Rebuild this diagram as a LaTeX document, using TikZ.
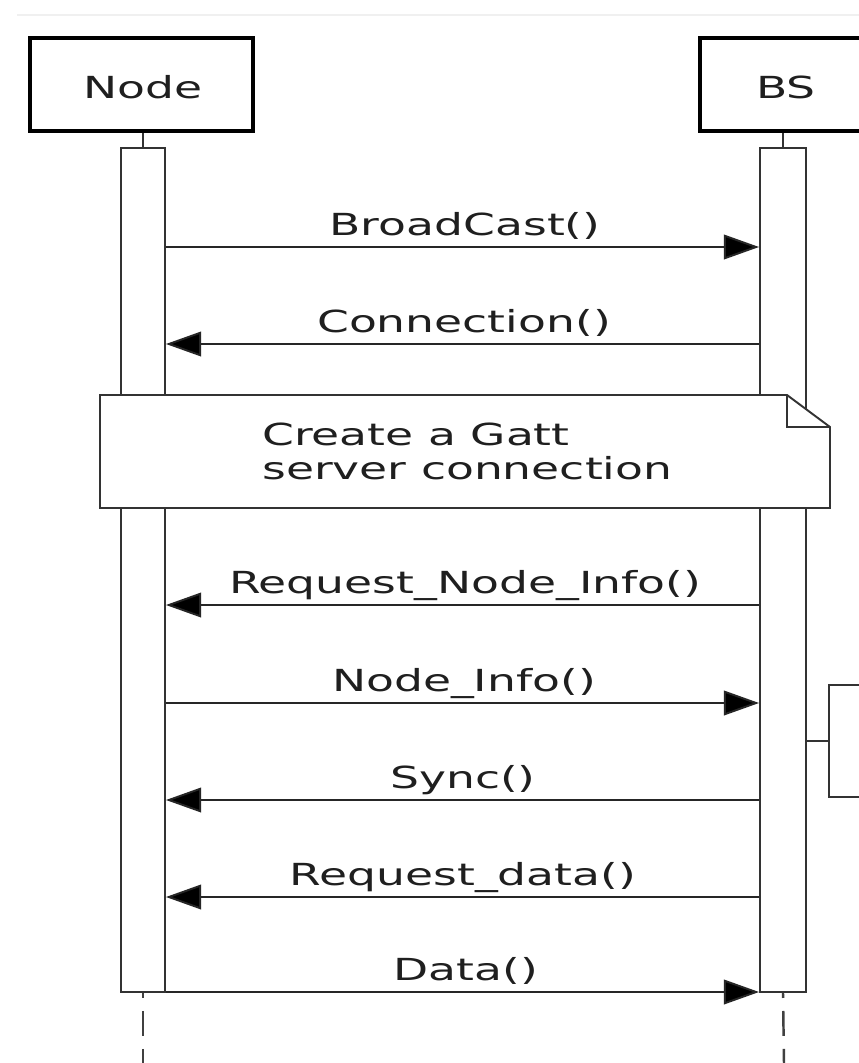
\documentclass[tikz,border=0pt]{standalone}
\usepackage{fontspec}
\setmainfont{DejaVu Sans}[FakeStretch=1.5]
\usetikzlibrary{arrows.meta,calc}
\begin{document}
\begin{tikzpicture}[x=0.02cm,y=-0.02cm,
  every node/.style={font=\fontsize{17.3}{19.3}\selectfont, text=black!88, inner sep=0pt},
  headbox/.style={draw=black, line width=2.4pt, fill=white, minimum height=1.86cm},
  actbar/.style={draw=black!80, line width=1.1pt, fill=white, minimum height=16.88cm},
  msg/.style={draw=black!85, line width=1.1pt, -{Triangle[length=20pt,width=14pt,fill=black]}},
  lbl/.style={anchor=base},
  thinline/.style={draw=black!80, line width=1.1pt},
  lifedash/.style={draw=black!75, line width=1.4pt, dash pattern=on 14.2pt off 7.4pt, dash phase=11.3pt}]
\useasboundingbox (0,0) rectangle (859,1063);
\clip (0,0) rectangle (859,1063);
\fill[white] (0,0) rectangle (859,1063);
\draw[black!6, line width=0.6pt] (17,15) -- (859,15);

% heads
\node[headbox, minimum width=4.46cm] (hN) at (141.5,84.5) {};
\node (tN) at (143,87) {Node};
\node[headbox, minimum width=3.32cm] (hB) at (783,84.5) {};
\node (tB) at (786,87) {BS};

\coordinate (endN) at (143,1063);
\coordinate (endB) at (784,1063);

% activation bars
\node[actbar, minimum width=0.88cm] (actN) at (143,570) {};
\node[actbar, minimum width=0.92cm] (actB) at (783,570) {};
\draw[thinline] (actN.north |- hN.south) -- (actN.north);
\draw[thinline] (actB.north |- hB.south) -- (actB.north);
\draw[lifedash] (actN.south) -- (endN);
\draw[lifedash] (actB.south) -- (endB);

% message heights
\coordinate (y1) at (0,247);
\coordinate (y2) at (0,344);
\coordinate (y3) at (0,605);
\coordinate (y4) at (0,703);
\coordinate (y5) at (0,800);
\coordinate (y6) at (0,897);
\coordinate (y7) at (0,992);

\draw[msg] (actN.east |- y1) -- (actB.west |- y1);
\node[lbl] (l1) at (465,235) {BroadCast()};
\draw[msg] (actB.west |- y2) -- (actN.east |- y2);
\node[lbl] (l2) at (464,332) {Connection()};

% note
\draw[black!80, line width=1.1pt, fill=white]
  (100,395) -- (787,395) -- (830,427) -- (830,508) -- (100,508) -- cycle;
\draw[black!80, line width=1.1pt] (787,395) -- (787,427) -- (830,427);
\node[anchor=base west, align=left] (nt) at (262,479) {Create a Gatt\\ server connection};

\draw[msg] (actB.west |- y3) -- (actN.east |- y3);
\node[lbl] (l3) at (465,593) {Request\_Node\_Info()};
\draw[msg] (actN.east |- y4) -- (actB.west |- y4);
\node[lbl] (l4) at (464,691) {Node\_Info()};
\draw[msg] (actB.west |- y5) -- (actN.east |- y5);
\node[lbl] (l5) at (463,788) {Sync()};
\draw[msg] (actB.west |- y6) -- (actN.east |- y6);
\node[lbl] (l6) at (463,885) {Request\_data()};
\draw[msg] (actN.east |- y7) -- (actB.west |- y7);
\node[lbl] (l7) at (466,980) {Data()};

% partial box at right edge
\node[draw=black!80, line width=1.1pt, fill=white, minimum width=2.04cm, minimum height=2.24cm] (side) at (880,741) {};
\draw[thinline] (actB.east |- side.west) -- (side.west);
\end{tikzpicture}
\end{document}
